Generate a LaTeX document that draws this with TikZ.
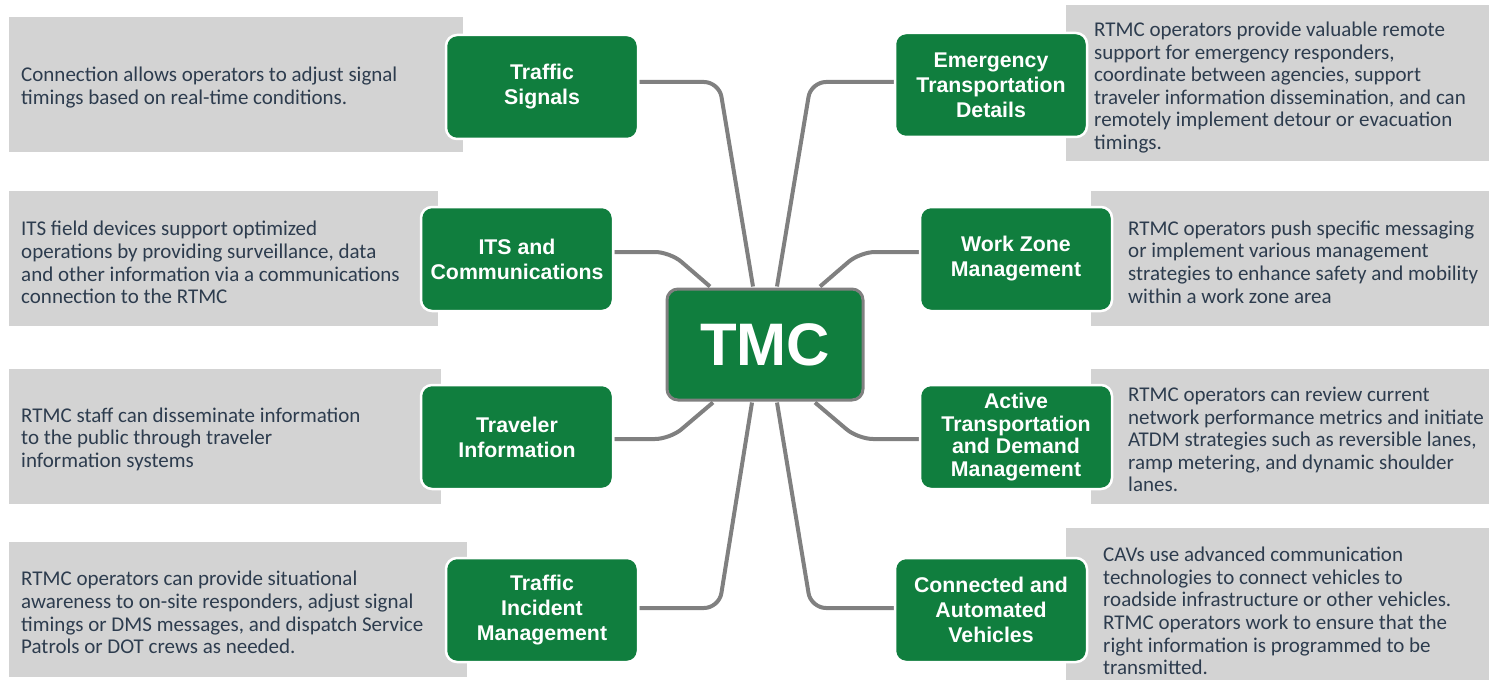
\documentclass[tikz,border=0pt]{standalone}
\usepackage{fontspec}
\usetikzlibrary{backgrounds}
\setmainfont{Liberation Sans}
\newfontfamily\descfont{Carlito}
\newfontfamily\labfont{Liberation Sans}
\definecolor{tgreen}{RGB}{16,126,62}
\definecolor{tgray}{RGB}{211,211,211}
\definecolor{tline}{RGB}{128,128,128}
\definecolor{ttext}{RGB}{45,60,78}
\begin{document}
\begin{tikzpicture}[x=1pt,y=-1pt,
  graybox/.style={fill=tgray,draw=none,minimum width=#1,inner sep=0pt,minimum height=135pt},
  desc/.style={anchor=west,align=left,inner sep=0pt,text=ttext,font=\descfont\fontsize{21}{22.6}\selectfont},
  gbox/.style={fill=tgreen,draw=white,line width=2.5pt,rounded corners=11pt,minimum width=192pt,minimum height=104pt,inner sep=0pt,align=center,text=white,font=\labfont\bfseries\fontsize{21.3}{25}\selectfont},
  conn/.style={draw=tline,line width=4pt,rounded corners=15pt},
]
\useasboundingbox (0,0) rectangle (1489,682);
% gray description boxes
\node[graybox=454pt] (g1) at (236,84.5) {};
\node[graybox=429pt] (g2) at (223.5,258.5) {};
\node[graybox=432pt] (g3) at (225,436) {};
\node[graybox=458pt] (g4) at (238,609) {};
\node[graybox=423pt,minimum height=156pt] (h1) at (1277.5,83) {};
\node[graybox=398pt] (h2) at (1290,258.5) {};
\node[graybox=398pt] (h3) at (1290,436) {};
\node[graybox=423pt,minimum height=152pt] (h4) at (1277.5,604) {};
% descriptions
\node[desc] (d1) at (21,87.5) {Connection allows operators to adjust signal\\timings based on real-time conditions.};
\node[desc] (d2) at (21,262.5) {ITS field devices support optimized\\operations by providing surveillance, data\\and other information via a communications\\connection to the RTMC};
\node[desc] (d3) at (21,439) {RTMC staff can disseminate information\\to the public through traveler\\information systems};
\node[desc] (d4) at (21,612.5) {RTMC operators can provide situational\\awareness to on-site responders, adjust signal\\timings or DMS messages, and dispatch Service\\Patrols or DOT crews as needed.};
\node[desc] (e1) at (1094,87.5) {RTMC operators provide valuable remote\\support for emergency responders,\\coordinate between agencies, support\\traveler information dissemination, and can\\remotely implement detour or evacuation\\timings.};
\node[desc] (e2) at (1128,262) {RTMC operators push specific messaging\\or implement various management\\strategies to enhance safety and mobility\\within a work zone area};
\node[desc] (e3) at (1128,439.5) {RTMC operators can review current\\network performance metrics and initiate\\ATDM strategies such as reversible lanes,\\ramp metering, and dynamic shoulder\\lanes.};
\node[desc] (e4) at (1103,611) {CAVs use advanced communication\\technologies to connect vehicles to\\roadside infrastructure or other vehicles.\\RTMC operators work to ensure that the\\right information is programmed to be\\transmitted.};
% TMC
\node[fill=tgreen,draw=tline,line width=3pt,rounded corners=11pt,minimum width=196pt,minimum height=111pt,inner sep=0pt,text=white,font=\labfont\bfseries\fontsize{60}{60}\selectfont] (tmc) at (765,344.5) {TMC};
% green boxes
\node[gbox] (ts) at (542,87) {Traffic\\Signals};
\node[gbox] (its) at (517,259) {ITS and\\Communications};
\node[gbox] (ti) at (517,437) {Traveler\\Information};
\node[gbox] (tim) at (542,610) {Traffic\\Incident\\Management};
\node[gbox] (etd) at (991,85) {Emergency\\Transportation\\Details};
\node[gbox] (wz) at (1016,259) {Work Zone\\Management};
\node[gbox,font=\labfont\bfseries\fontsize{21.3}{22.8}\selectfont] (atd) at (1016,437) {Active\\Transportation\\and Demand\\Management};
\node[gbox] (cav) at (991,610) {Connected and\\Automated\\Vehicles};
% connectors
\begin{scope}[on background layer]
\draw[conn] ([yshift=5pt]ts.east) -- (719,82) -- ([xshift=-12pt,yshift=1pt]tmc.north);
\draw[conn] ([yshift=7pt]its.east) -- (670,252) -- ([xshift=-55pt,yshift=1pt]tmc.north);
\draw[conn] ([yshift=-2pt]ti.east) -- (670,439) -- ([xshift=-52pt,yshift=-1pt]tmc.south);
\draw[conn] ([yshift=2pt]tim.east) -- (719,608) -- ([xshift=-13pt,yshift=-1pt]tmc.south);
\draw[conn] ([yshift=3pt]etd.west) -- (811,82) -- ([xshift=12pt,yshift=1pt]tmc.north);
\draw[conn] ([yshift=7pt]wz.west) -- (860,252) -- ([xshift=55pt,yshift=1pt]tmc.north);
\draw[conn] ([yshift=-2pt]atd.west) -- (858,439) -- ([xshift=50pt,yshift=-1pt]tmc.south);
\draw[conn] ([yshift=2pt]cav.west) -- (811,608) -- ([xshift=12pt,yshift=-1pt]tmc.south);
\end{scope}
\end{tikzpicture}
\end{document}
